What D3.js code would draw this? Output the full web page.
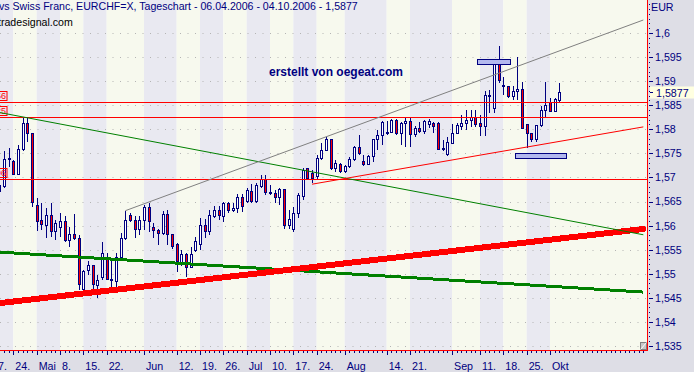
<!DOCTYPE html>
<html lang="de">
<head>
<meta charset="utf-8">
<title>EURCHF Tageschart</title>
<script src="https://d3js.org/d3.v7.min.js"></script>
<style>
  body { margin: 0; background: #fff; }
  svg { display: block; font-family: "Liberation Sans", Arial, sans-serif; }
  .axis text { fill: #000080; font-size: 10.7px; }
  .axis line { stroke: #000080; shape-rendering: crispEdges; }
  .axis path { display: none; }
</style>
</head>
<body>
<script>
var w = 694, h = 372;
var plotW = 647, plotH = 350;

// daily candles, one per weekday starting with firstDay
var firstDay = "2006-04-19";
var opens = [1.5670, 1.5682, 1.5740,
  1.5734, 1.5707, 1.5759, 1.5813, 1.5792,
  1.5641, 1.5610, 1.5601, 1.5622, 1.5587,
  1.5597, 1.5608, 1.5569, 1.5581, 1.5574,
  1.5468, 1.5506, 1.5517, 1.5475, 1.5492,
  1.5532, 1.5489, 1.5484, 1.5533, 1.5574,
  1.5620, 1.5610, 1.5592, 1.5610, 1.5637,
  1.5597, 1.5589, 1.5584, 1.5624, 1.5582,
  1.5561, 1.5520, 1.5540, 1.5514, 1.5548,
  1.5560, 1.5601, 1.5587, 1.5619, 1.5632,
  1.5619, 1.5645, 1.5631, 1.5636, 1.5659,
  1.5650, 1.5670, 1.5650, 1.5681, 1.5695,
  1.5668, 1.5667, 1.5659, 1.5674, 1.5601,
  1.5591, 1.5626, 1.5660, 1.5718, 1.5709,
  1.5702, 1.5740, 1.5757, 1.5778, 1.5719,
  1.5727, 1.5712, 1.5722, 1.5738, 1.5762,
  1.5734, 1.5727, 1.5743, 1.5778, 1.5788,
  1.5793, 1.5794, 1.5818, 1.5792, 1.5813,
  1.5816, 1.5790, 1.5802, 1.5795, 1.5809,
  1.5813, 1.5813, 1.5759, 1.5747, 1.5771,
  1.5792, 1.5805, 1.5813, 1.5818, 1.5825,
  1.5813, 1.5805, 1.5868, 1.5844, 1.5937,
  1.5889, 1.5889, 1.5868, 1.5878, 1.5883,
  1.5810, 1.5792, 1.5778, 1.5808, 1.5840,
  1.5855, 1.5837, 1.5859];
var highs = [1.5691, 1.5754, 1.5761,
  1.5736, 1.5767, 1.5826, 1.5824, 1.5793,
  1.5657, 1.5646, 1.5636, 1.5646, 1.5612,
  1.5626, 1.5619, 1.5598, 1.5624, 1.5581,
  1.5508, 1.5527, 1.5518, 1.5498, 1.5567,
  1.5543, 1.5532, 1.5543, 1.5584, 1.5631,
  1.5626, 1.5619, 1.5619, 1.5643, 1.5648,
  1.5605, 1.5594, 1.5630, 1.5632, 1.5582,
  1.5563, 1.5549, 1.5543, 1.5556, 1.5577,
  1.5616, 1.5613, 1.5632, 1.5641, 1.5641,
  1.5650, 1.5650, 1.5648, 1.5666, 1.5666,
  1.5678, 1.5686, 1.5688, 1.5705, 1.5705,
  1.5684, 1.5673, 1.5678, 1.5674, 1.5632,
  1.5639, 1.5668, 1.5719, 1.5719, 1.5716,
  1.5747, 1.5771, 1.5785, 1.5778, 1.5736,
  1.5729, 1.5726, 1.5743, 1.5765, 1.5788,
  1.5747, 1.5747, 1.5780, 1.5799, 1.5818,
  1.5818, 1.5821, 1.5821, 1.5815, 1.5823,
  1.5825, 1.5807, 1.5816, 1.5819, 1.5821,
  1.5816, 1.5816, 1.5778, 1.5783, 1.5811,
  1.5813, 1.5830, 1.5840, 1.5840, 1.5840,
  1.5830, 1.5880, 1.5882, 1.5937, 1.5972,
  1.5909, 1.5889, 1.5889, 1.5951, 1.5899,
  1.5811, 1.5793, 1.5809, 1.5848, 1.5899,
  1.5864, 1.5864, 1.5897];
var lows = [1.5655, 1.5678, 1.5722,
  1.5705, 1.5705, 1.5754, 1.5774, 1.5639,
  1.5589, 1.5591, 1.5574, 1.5577, 1.5570,
  1.5577, 1.5567, 1.5556, 1.5570, 1.5466,
  1.5463, 1.5498, 1.5466, 1.5449, 1.5487,
  1.5487, 1.5471, 1.5466, 1.5529, 1.5570,
  1.5608, 1.5574, 1.5581, 1.5591, 1.5587,
  1.5574, 1.5560, 1.5581, 1.5560, 1.5551,
  1.5503, 1.5516, 1.5494, 1.5513, 1.5546,
  1.5549, 1.5574, 1.5581, 1.5616, 1.5612,
  1.5608, 1.5626, 1.5629, 1.5627, 1.5629,
  1.5646, 1.5648, 1.5648, 1.5678, 1.5664,
  1.5664, 1.5646, 1.5643, 1.5594, 1.5594,
  1.5587, 1.5615, 1.5653, 1.5695, 1.5688,
  1.5695, 1.5736, 1.5754, 1.5716, 1.5712,
  1.5710, 1.5710, 1.5719, 1.5735, 1.5747,
  1.5724, 1.5726, 1.5733, 1.5757, 1.5767,
  1.5788, 1.5792, 1.5788, 1.5767, 1.5764,
  1.5763, 1.5785, 1.5792, 1.5790, 1.5802,
  1.5792, 1.5757, 1.5754, 1.5745, 1.5770,
  1.5790, 1.5799, 1.5799, 1.5805, 1.5805,
  1.5786, 1.5786, 1.5833, 1.5833, 1.5896,
  1.5871, 1.5864, 1.5861, 1.5861, 1.5800,
  1.5761, 1.5774, 1.5774, 1.5805, 1.5826,
  1.5835, 1.5835, 1.5854];
var closes = [1.5684, 1.5738, 1.5739,
  1.5707, 1.5759, 1.5813, 1.5792, 1.5648,
  1.5608, 1.5603, 1.5622, 1.5587, 1.5605,
  1.5608, 1.5569, 1.5581, 1.5574, 1.5477,
  1.5504, 1.5517, 1.5477, 1.5487, 1.5543,
  1.5489, 1.5485, 1.5534, 1.5574, 1.5610,
  1.5610, 1.5592, 1.5610, 1.5637, 1.5608,
  1.5589, 1.5584, 1.5624, 1.5582, 1.5556,
  1.5525, 1.5540, 1.5514, 1.5540, 1.5568,
  1.5601, 1.5587, 1.5620, 1.5632, 1.5622,
  1.5646, 1.5631, 1.5636, 1.5659, 1.5639,
  1.5672, 1.5650, 1.5683, 1.5695, 1.5668,
  1.5667, 1.5659, 1.5674, 1.5601, 1.5613,
  1.5626, 1.5662, 1.5714, 1.5698, 1.5698,
  1.5740, 1.5757, 1.5778, 1.5719, 1.5728,
  1.5712, 1.5722, 1.5738, 1.5762, 1.5750,
  1.5727, 1.5743, 1.5778, 1.5788, 1.5815,
  1.5794, 1.5818, 1.5792, 1.5813, 1.5816,
  1.5790, 1.5802, 1.5795, 1.5817, 1.5816,
  1.5805, 1.5759, 1.5761, 1.5772, 1.5792,
  1.5807, 1.5813, 1.5819, 1.5825, 1.5811,
  1.5805, 1.5871, 1.5871, 1.5934, 1.5902,
  1.5892, 1.5868, 1.5878, 1.5883, 1.5802,
  1.5792, 1.5778, 1.5808, 1.5840, 1.5849,
  1.5837, 1.5861, 1.5877];
var lastPrice = 1.5877;

// date axis
var tickDates = ["2006-04-17", "2006-04-24", "2006-05-01", "2006-05-08", "2006-05-15", "2006-05-22",
  "2006-06-01", "2006-06-12", "2006-06-19", "2006-06-26", "2006-07-03", "2006-07-10", "2006-07-17",
  "2006-07-24", "2006-08-01", "2006-08-14", "2006-08-21", "2006-09-01", "2006-09-11", "2006-09-18",
  "2006-09-25", "2006-10-02"];
var tickLabels = ["17.", "24.", "Mai", "8.", "15.", "22.", "Jun", "12.", "19.", "26.", "Jul", "10.", "17.",
  "24.", "Aug", "14.", "21.", "Sep", "11.", "18.", "25.", "Okt"];

// price axis
var priceTicks = [1.535, 1.54, 1.545, 1.55, 1.555, 1.56, 1.565, 1.57, 1.575, 1.58, 1.585, 1.59, 1.595, 1.6];

// drawings on the chart
var levels = [1.5856, 1.5825, 1.5696];
var levelLabels = ["1,5856", "1,5825", "1,5696"];
var grayLine = [["2006-05-26", 1.5631], ["2006-10-30", 1.6027]];
var redLine = [["2006-07-21", 1.5686], ["2006-10-30", 1.5805]];
var greenLine = [["2006-04-19", 1.5835], ["2006-10-30", 1.5581]];
var greenThick = [["2006-04-19", 1.5545], ["2006-10-30", 1.5462]];
var redThick = [["2006-04-19", 1.5439], ["2006-10-30", 1.5593]];
var boxes = [["2006-09-08", "2006-09-19", 1.5935, 1.5945], ["2006-09-20", "2006-10-05", 1.5740, 1.5750]];

var titleText = "vs Swiss Franc, EURCHF=X, Tageschart - 06.04.2006 - 04.10.2006 - 1,5877";

//trading day number, counted from Monday 24.04.2006
var parseDay = d3.timeParse("%Y-%m-%d");
var baseDay = parseDay("2006-04-24");
function tradeIndex(s) {
	var days = Math.round((parseDay(s) - baseDay) / 864e5);
	var weeks = Math.floor(days / 7);
	return weeks * 5 + Math.min(days - weeks * 7, 4);
}

var xScale = d3.scaleLinear().domain([0, 115]).range([40 / 3, 550]);
var yScale = d3.scaleLinear().domain([1.535, 1.6]).range([346, 33]);
function px(i) { return Math.round(xScale(i)) + 0.5; }
function comma(v) { return d3.format(".4~f")(v).replace(".", ","); }

var svg = d3.select("body").append("svg")
	.attr("width", w)
	.attr("height", h);

svg.append("clipPath").attr("id", "plotclip")
	.append("rect").attr("x", 0).attr("y", 0).attr("width", plotW).attr("height", plotH);

var plot = svg.append("g").attr("clip-path", "url(#plotclip)");

//background bands between labelled ticks
var tickIdx = tickDates.map(tradeIndex);
var bandEdges = tickIdx.map(function(t) { return xScale(t); }).concat([plotW]);
plot.selectAll("rect.band")
	.data(d3.range(bandEdges.length - 1))
	.enter()
	.append("rect")
	.attr("x", function(k) { return bandEdges[k]; })
	.attr("y", 0)
	.attr("width", function(k) { return bandEdges[k + 1] - bandEdges[k]; })
	.attr("height", plotH)
	.attr("fill", function(k) { return k % 2 == 0 ? "#e9e9f1" : "#f7f9ee"; });

//dotted grid
plot.selectAll("line.grid")
	.data(priceTicks)
	.enter()
	.append("line")
	.attr("x1", 0).attr("x2", plotW)
	.attr("y1", function(d) { return Math.round(yScale(d)) + 0.5; })
	.attr("y2", function(d) { return Math.round(yScale(d)) + 0.5; })
	.attr("stroke", "#b4b4b4")
	.attr("stroke-dasharray", "1,6.5");

//candles
var startIdx = tradeIndex(firstDay);
var candles = opens.map(function(o, i) {
	return { i: startIdx + i, o: o, h: highs[i], l: lows[i], c: closes[i] };
});
var cg = plot.append("g").attr("shape-rendering", "crispEdges");
cg.selectAll("line")
	.data(candles)
	.enter()
	.append("line")
	.attr("x1", function(d) { return px(d.i); })
	.attr("x2", function(d) { return px(d.i); })
	.attr("y1", function(d) { return yScale(d.h); })
	.attr("y2", function(d) { return yScale(d.l); })
	.attr("stroke", "#000080");
cg.selectAll("rect")
	.data(candles)
	.enter()
	.append("rect")
	.attr("x", function(d) { return px(d.i) - 1; })
	.attr("width", 2)
	.attr("y", function(d) { return yScale(Math.max(d.o, d.c)); })
	.attr("height", function(d) { return Math.max(1, Math.abs(yScale(d.o) - yScale(d.c))); })
	.attr("fill", function(d) { return d.c >= d.o ? "#ffffff" : "#ff0000"; })
	.attr("stroke", "#000080");

//horizontal levels
plot.selectAll("line.level")
	.data(levels)
	.enter()
	.append("line")
	.attr("x1", 0).attr("x2", plotW)
	.attr("y1", function(d) { return Math.round(yScale(d)) + 0.5; })
	.attr("y2", function(d) { return Math.round(yScale(d)) + 0.5; })
	.attr("stroke", "#ff0000");

//level labels, cut at the left edge
levels.forEach(function(v, k) {
	var yy = Math.round(yScale(v));
	plot.append("rect")
		.attr("x", -40).attr("y", yy - 10.5)
		.attr("width", 47).attr("height", 9)
		.attr("fill", "none").attr("stroke", "#ff0000");
	plot.append("text")
		.attr("x", 6).attr("y", yy - 3)
		.attr("text-anchor", "end")
		.attr("font-size", "9px")
		.attr("fill", "#ff0000")
		.text(levelLabels[k]);
});

//trend lines
var line = d3.line()
	.x(function(d) { return xScale(tradeIndex(d[0])); })
	.y(function(d) { return yScale(d[1]); });

plot.append("path").attr("d", line(greenThick))
	.attr("stroke", "#008000").attr("stroke-width", 3).attr("fill", "none")
	.attr("shape-rendering", "crispEdges");
plot.append("path").attr("d", line(redThick))
	.attr("stroke", "#ff0000").attr("stroke-width", 6).attr("fill", "none")
	.attr("stroke-linecap", "round").attr("shape-rendering", "crispEdges");
plot.append("path").attr("d", line(greenLine))
	.attr("stroke", "#008000").attr("stroke-width", 1).attr("fill", "none");
plot.append("path").attr("d", line(redLine))
	.attr("stroke", "#ff0000").attr("stroke-width", 1).attr("fill", "none");
plot.append("path").attr("d", line(grayLine))
	.attr("stroke", "#808080").attr("stroke-width", 1).attr("fill", "none");

//marker boxes
plot.selectAll("rect.box")
	.data(boxes)
	.enter()
	.append("rect")
	.attr("x", function(d) { return Math.round(xScale(tradeIndex(d[0]))) + 2.5; })
	.attr("width", function(d) { return Math.round(xScale(tradeIndex(d[1])) - xScale(tradeIndex(d[0]))); })
	.attr("y", function(d) { return Math.round(yScale(d[3])) + 0.5; })
	.attr("height", function(d) { return Math.round(yScale(d[2]) - yScale(d[3])); })
	.attr("fill", "#b3b8ef")
	.attr("stroke", "#000080");

//texts
plot.append("text")
	.attr("x", -1).attr("y", 9.5)
	.attr("font-size", "10.6px")
	.attr("fill", "#000080")
	.text(titleText);
plot.append("text")
	.attr("x", -2).attr("y", 25.5)
	.attr("font-size", "10.6px")
	.attr("fill", "#000000")
	.text("tradesignal.com");
plot.append("text")
	.attr("x", 269).attr("y", 76)
	.attr("font-size", "12px")
	.attr("font-weight", "bold")
	.attr("fill", "#000080")
	.text("erstellt von oegeat.com");

//right price axis
svg.append("rect")
	.attr("x", plotW + 1).attr("y", 0)
	.attr("width", w - plotW - 1).attr("height", h)
	.attr("fill", "#dedee6");

svg.append("g")
	.attr("class", "axis")
	.attr("transform", "translate(" + (plotW + 2) + ",0)")
	.call(d3.axisRight(yScale).tickValues(d3.range(1.530, 1.6105, 0.001)).tickSize(1).tickFormat(""));

svg.append("g")
	.attr("class", "axis")
	.attr("transform", "translate(" + (plotW + 3) + ",0)")
	.call(d3.axisRight(yScale).tickValues(priceTicks).tickSize(3).tickPadding(2).tickFormat(comma));

svg.append("text")
	.attr("x", plotW + 4).attr("y", 11)
	.attr("font-size", "10.7px")
	.attr("fill", "#000080")
	.text("EUR");

//last price label
var ly = Math.round(yScale(lastPrice));
svg.append("rect")
	.attr("x", plotW + 3).attr("y", ly - 5.5)
	.attr("width", w - plotW - 3).attr("height", 12)
	.attr("fill", "#ffffe1");
svg.append("line")
	.attr("x1", plotW + 3).attr("x2", plotW + 6)
	.attr("y1", ly + 0.5).attr("y2", ly + 0.5)
	.attr("stroke", "#000080");
svg.append("text")
	.attr("x", plotW + 9).attr("y", ly + 4.5)
	.attr("font-size", "10.7px")
	.attr("fill", "#000080")
	.text(comma(lastPrice));

//bottom date axis
svg.append("rect")
	.attr("x", 0).attr("y", plotH + 1)
	.attr("width", w).attr("height", h - plotH - 1)
	.attr("fill", "#dedee6");

svg.append("g")
	.attr("class", "axis")
	.attr("transform", "translate(0," + (plotH + 1) + ")")
	.call(d3.axisBottom(xScale).tickValues(d3.range(startIdx - 2, 136)).tickSize(2).tickFormat(""));

var xAxisG = svg.append("g")
	.attr("class", "axis")
	.attr("transform", "translate(0," + (plotH + 1) + ")")
	.call(d3.axisBottom(xScale).tickValues(tickIdx).tickSize(4).tickFormat(function(d, i) { return tickLabels[i]; }));
xAxisG.selectAll("text")
	.attr("text-anchor", "start")
	.attr("x", 1.5)
	.attr("y", 18.5)
	.attr("dy", 0);
xAxisG.selectAll(".tick")
	.filter(function(d) { return xScale(d) > plotW; })
	.remove();

//frame lines
svg.append("line")
	.attr("x1", plotW + 0.5).attr("x2", plotW + 0.5)
	.attr("y1", 0).attr("y2", plotH + 1)
	.attr("stroke", "#ff0000");
svg.append("line")
	.attr("x1", 0).attr("x2", plotW + 1)
	.attr("y1", plotH + 0.5).attr("y2", plotH + 0.5)
	.attr("stroke", "#ff0000");

//corner handle
svg.append("rect")
	.attr("x", plotW - 6.5).attr("y", plotH - 7.5)
	.attr("width", 6).attr("height", 7)
	.attr("fill", "#c8c8c8").attr("stroke", "#808080");
svg.append("line")
	.attr("x1", plotW - 6.5).attr("y1", plotH - 0.5)
	.attr("x2", plotW - 0.5).attr("y2", plotH - 7.5)
	.attr("stroke", "#ffffff");
</script>
</body>
</html>
